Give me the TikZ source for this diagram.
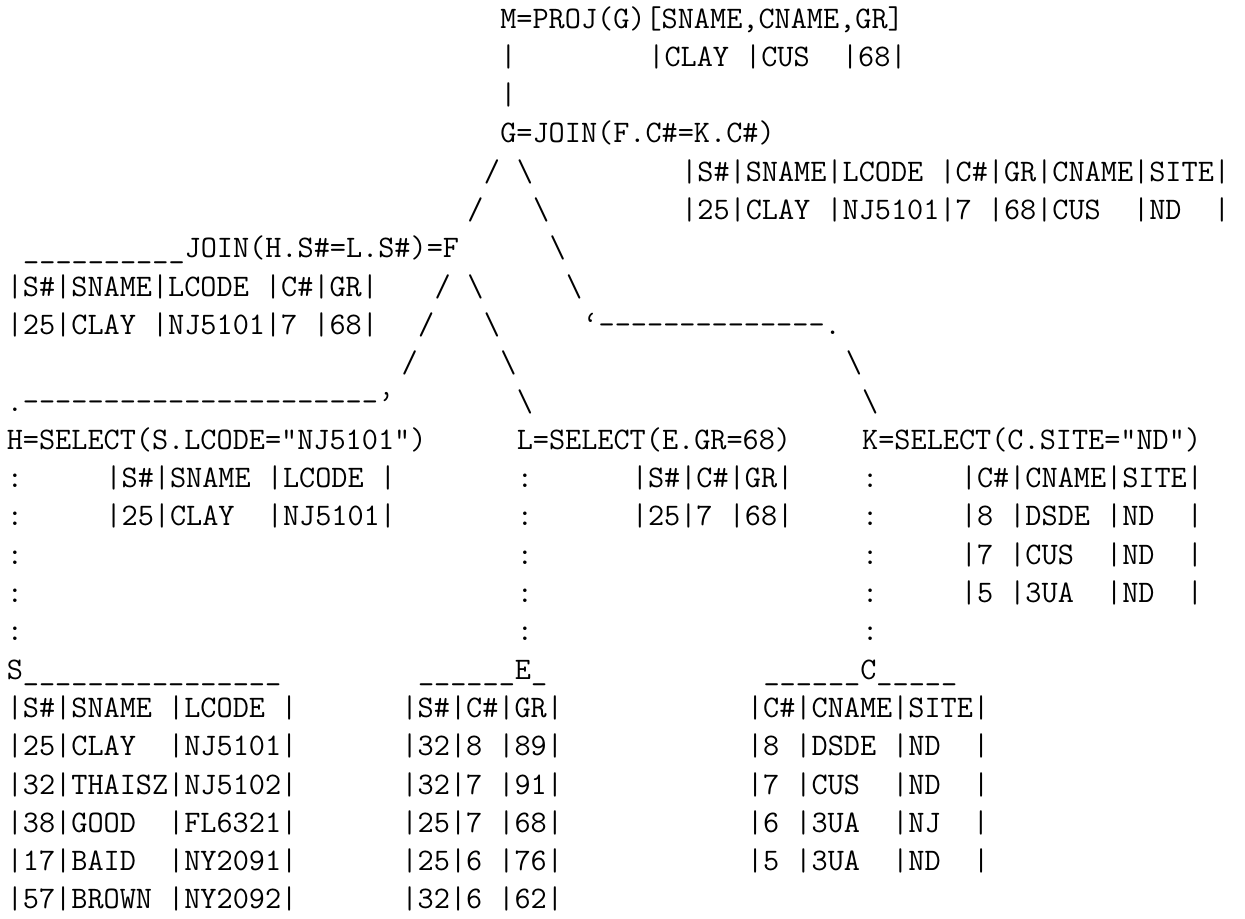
\documentclass[tikz,border=0pt]{standalone}
\usepackage{fontspec}
\newcommand\hy{-\kern0pt}
\newcommand\bs{\textbackslash}
\begin{document}
\begin{tikzpicture}[x=8.225pt,y=19.15pt,
  tt/.style={anchor=base west, inner sep=0pt, outer sep=0pt, font=\ttfamily\fontsize{15.67pt}{18pt}\selectfont}]
\useasboundingbox (-3.4pt,14pt) rectangle (619.1pt,-445pt);
% line 1-4
\node[tt] (m) at (30,0) {M=PROJ(G)[SNAME,CNAME,GR]};
\node[tt] (mbar1) at (30,-1) {|};
\node[tt] (mrow) at (39,-1) {|CLAY~|CUS~~|68|};
\node[tt] (mbar2) at (30,-2) {|};
\node[tt] (g) at (30,-3) {G=JOIN(F.C\#=K.C\#)};
% line 5-6
\node[tt] (gl1) at (29,-4) {/};
\node[tt] (gr1) at (31,-4) {\bs};
\node[tt] (ghead) at (41,-4) {|S\#|SNAME|LCODE~|C\#|GR|CNAME|SITE|};
\node[tt] (gl2) at (28,-5) {/};
\node[tt] (gr2) at (32,-5) {\bs};
\node[tt] (grow) at (41,-5) {|25|CLAY~|NJ5101|7~|68|CUS~~|ND~~|};
% line 7
\node[tt] (f) at (1,-6) {\_\_\_\_\_\_\_\_\_\_JOIN(H.S\#=L.S\#)=F};
\node[tt] (gr3) at (33,-6) {\bs};
% line 8
\node[tt] (fhead) at (0,-7) {|S\#|SNAME|LCODE~|C\#|GR|};
\node[tt] (fl1) at (26,-7) {/};
\node[tt] (fr1) at (28,-7) {\bs};
\node[tt] (gr4) at (34,-7) {\bs};
% line 9
\node[tt] (frow) at (0,-8) {|25|CLAY~|NJ5101|7~|68|};
\node[tt] (fl2) at (25,-8) {/};
\node[tt] (fr2) at (29,-8) {\bs};
\node[tt] (gbend) at (35,-8) {‘\hy\hy\hy\hy\hy\hy\hy\hy\hy\hy\hy\hy\hy\hy.};
% line 10
\node[tt] (fl3) at (24,-9) {/};
\node[tt] (fr3) at (30,-9) {\bs};
\node[tt] (gr5) at (51,-9) {\bs};
% line 11
\node[tt] (fbend) at (0,-10) {.\hy\hy\hy\hy\hy\hy\hy\hy\hy\hy\hy\hy\hy\hy\hy\hy\hy\hy\hy\hy\hy\hy’};
\node[tt] (fr4) at (31,-10) {\bs};
\node[tt] (gr6) at (52,-10) {\bs};
% line 12
\node[tt] (h) at (0,-11) {H=SELECT(S.LCODE="NJ5101")};
\node[tt] (l) at (31,-11) {L=SELECT(E.GR=68)};
\node[tt] (k) at (52,-11) {K=SELECT(C.SITE="ND")};
% line 13-14
\node[tt] (hc1) at (0,-12) {:};
\node[tt] (hhead) at (6,-12) {|S\#|SNAME~|LCODE~|};
\node[tt] (lc1) at (31,-12) {:};
\node[tt] (lhead) at (38,-12) {|S\#|C\#|GR|};
\node[tt] (kc1) at (52,-12) {:};
\node[tt] (khead) at (58,-12) {|C\#|CNAME|SITE|};
\node[tt] (hc2) at (0,-13) {:};
\node[tt] (hrow) at (6,-13) {|25|CLAY~~|NJ5101|};
\node[tt] (lc2) at (31,-13) {:};
\node[tt] (lrow) at (38,-13) {|25|7~|68|};
\node[tt] (kc2) at (52,-13) {:};
\node[tt] (krow1) at (58,-13) {|8~|DSDE~|ND~~|};
% line 15-17
\node[tt] (hc3) at (0,-14) {:};
\node[tt] (lc3) at (31,-14) {:};
\node[tt] (kc3) at (52,-14) {:};
\node[tt] (krow2) at (58,-14) {|7~|CUS~~|ND~~|};
\node[tt] (hc4) at (0,-15) {:};
\node[tt] (lc4) at (31,-15) {:};
\node[tt] (kc4) at (52,-15) {:};
\node[tt] (krow3) at (58,-15) {|5~|3UA~~|ND~~|};
\node[tt] (hc5) at (0,-16) {:};
\node[tt] (lc5) at (31,-16) {:};
\node[tt] (kc5) at (52,-16) {:};
% line 18: base relation titles
\node[tt] (s) at (0,-17) {S\_\_\_\_\_\_\_\_\_\_\_\_\_\_\_\_};
\node[tt] (e) at (25,-17) {\_\_\_\_\_\_E\_};
\node[tt] (c) at (46,-17) {\_\_\_\_\_\_C\_\_\_\_\_};
% S table
\node[tt] (s0) at (0,-18) {|S\#|SNAME~|LCODE~|};
\node[tt] (s1) at (0,-19) {|25|CLAY~~|NJ5101|};
\node[tt] (s2) at (0,-20) {|32|THAISZ|NJ5102|};
\node[tt] (s3) at (0,-21) {|38|GOOD~~|FL6321|};
\node[tt] (s4) at (0,-22) {|17|BAID~~|NY2091|};
\node[tt] (s5) at (0,-23) {|57|BROWN~|NY2092|};
% E table
\node[tt] (e0) at (24,-18) {|S\#|C\#|GR|};
\node[tt] (e1) at (24,-19) {|32|8~|89|};
\node[tt] (e2) at (24,-20) {|32|7~|91|};
\node[tt] (e3) at (24,-21) {|25|7~|68|};
\node[tt] (e4) at (24,-22) {|25|6~|76|};
\node[tt] (e5) at (24,-23) {|32|6~|62|};
% C table
\node[tt] (c0) at (45,-18) {|C\#|CNAME|SITE|};
\node[tt] (c1) at (45,-19) {|8~|DSDE~|ND~~|};
\node[tt] (c2) at (45,-20) {|7~|CUS~~|ND~~|};
\node[tt] (c3) at (45,-21) {|6~|3UA~~|NJ~~|};
\node[tt] (c4) at (45,-22) {|5~|3UA~~|ND~~|};
\end{tikzpicture}
\end{document}
